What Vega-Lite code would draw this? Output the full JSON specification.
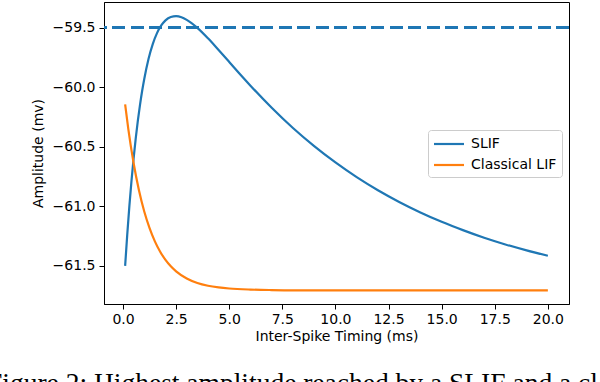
{
  "$schema": "https://vega.github.io/schema/vega-lite/v6.json",
  "autosize": "none",
  "width": 465,
  "height": 302,
  "padding": {"left": 104, "top": 2, "right": 31, "bottom": 78},
  "background": "white",
  "config": {
    "view": {"stroke": "black", "strokeWidth": 1},
    "font": "DejaVu Sans",
    "axis": {
      "domainColor": "black",
      "tickColor": "black",
      "labelColor": "black",
      "titleColor": "black",
      "labelFont": "DejaVu Sans",
      "titleFont": "DejaVu Sans",
      "labelFontSize": 14,
      "titleFontSize": 14,
      "titleFontWeight": "normal",
      "tickSize": 5,
      "grid": false
    }
  },
  "title": {
    "text": "Figure 2: Highest amplitude reached by a SLIF and a classical LIF neuron",
    "orient": "bottom",
    "anchor": "start",
    "frame": "group",
    "dx": -117,
    "offset": 27,
    "font": "Liberation Serif",
    "fontSize": 27.5,
    "fontWeight": "normal",
    "color": "black"
  },
  "data": {
    "values": [
      {"t": 0.1, "v": -61.50, "model": "SLIF"},
      {"t": 0.2, "v": -61.235, "model": "SLIF"},
      {"t": 0.3, "v": -60.997, "model": "SLIF"},
      {"t": 0.4, "v": -60.785, "model": "SLIF"},
      {"t": 0.5, "v": -60.596, "model": "SLIF"},
      {"t": 0.6, "v": -60.428, "model": "SLIF"},
      {"t": 0.7, "v": -60.279, "model": "SLIF"},
      {"t": 0.8, "v": -60.148, "model": "SLIF"},
      {"t": 0.9, "v": -60.032, "model": "SLIF"},
      {"t": 1.0, "v": -59.931, "model": "SLIF"},
      {"t": 1.2, "v": -59.763, "model": "SLIF"},
      {"t": 1.4, "v": -59.638, "model": "SLIF"},
      {"t": 1.6, "v": -59.546, "model": "SLIF"},
      {"t": 1.8, "v": -59.482, "model": "SLIF"},
      {"t": 2.0, "v": -59.439, "model": "SLIF"},
      {"t": 2.25, "v": -59.411, "model": "SLIF"},
      {"t": 2.5, "v": -59.404, "model": "SLIF"},
      {"t": 2.75, "v": -59.413, "model": "SLIF"},
      {"t": 3.0, "v": -59.435, "model": "SLIF"},
      {"t": 3.5, "v": -59.502, "model": "SLIF"},
      {"t": 4.0, "v": -59.590, "model": "SLIF"},
      {"t": 4.5, "v": -59.688, "model": "SLIF"},
      {"t": 5.0, "v": -59.788, "model": "SLIF"},
      {"t": 5.5, "v": -59.889, "model": "SLIF"},
      {"t": 6.0, "v": -59.987, "model": "SLIF"},
      {"t": 7.0, "v": -60.173, "model": "SLIF"},
      {"t": 8.0, "v": -60.343, "model": "SLIF"},
      {"t": 9.0, "v": -60.495, "model": "SLIF"},
      {"t": 10.0, "v": -60.632, "model": "SLIF"},
      {"t": 11.0, "v": -60.755, "model": "SLIF"},
      {"t": 12.0, "v": -60.865, "model": "SLIF"},
      {"t": 13.0, "v": -60.963, "model": "SLIF"},
      {"t": 14.0, "v": -61.051, "model": "SLIF"},
      {"t": 15.0, "v": -61.130, "model": "SLIF"},
      {"t": 16.0, "v": -61.200, "model": "SLIF"},
      {"t": 17.0, "v": -61.264, "model": "SLIF"},
      {"t": 18.0, "v": -61.320, "model": "SLIF"},
      {"t": 19.0, "v": -61.370, "model": "SLIF"},
      {"t": 20.0, "v": -61.415, "model": "SLIF"},
      {"t": 0.1, "v": -60.145, "model": "Classical LIF"},
      {"t": 0.25, "v": -60.353, "model": "Classical LIF"},
      {"t": 0.5, "v": -60.639, "model": "Classical LIF"},
      {"t": 0.75, "v": -60.865, "model": "Classical LIF"},
      {"t": 1.0, "v": -61.043, "model": "Classical LIF"},
      {"t": 1.25, "v": -61.183, "model": "Classical LIF"},
      {"t": 1.5, "v": -61.294, "model": "Classical LIF"},
      {"t": 1.75, "v": -61.381, "model": "Classical LIF"},
      {"t": 2.0, "v": -61.45, "model": "Classical LIF"},
      {"t": 2.25, "v": -61.504, "model": "Classical LIF"},
      {"t": 2.5, "v": -61.546, "model": "Classical LIF"},
      {"t": 3.0, "v": -61.606, "model": "Classical LIF"},
      {"t": 3.5, "v": -61.644, "model": "Classical LIF"},
      {"t": 4.0, "v": -61.667, "model": "Classical LIF"},
      {"t": 4.5, "v": -61.681, "model": "Classical LIF"},
      {"t": 5.0, "v": -61.69, "model": "Classical LIF"},
      {"t": 6.0, "v": -61.699, "model": "Classical LIF"},
      {"t": 7.0, "v": -61.703, "model": "Classical LIF"},
      {"t": 8.0, "v": -61.705, "model": "Classical LIF"},
      {"t": 10.0, "v": -61.705, "model": "Classical LIF"},
      {"t": 12.5, "v": -61.705, "model": "Classical LIF"},
      {"t": 15.0, "v": -61.705, "model": "Classical LIF"},
      {"t": 17.5, "v": -61.705, "model": "Classical LIF"},
      {"t": 20.0, "v": -61.705, "model": "Classical LIF"}
    ]
  },
  "layer": [
    {
      "mark": {"type": "rule", "color": "#1f77b4", "strokeWidth": 2, "strokeDash": [12.5, 6]},
      "encoding": {"y": {"datum": -59.5, "type": "quantitative"}}
    },
    {
      "mark": {"type": "line", "strokeWidth": 2.2, "interpolate": "monotone"},
      "encoding": {
        "x": {
          "field": "t",
          "type": "quantitative",
          "scale": {"domain": [-0.895, 20.995], "nice": false, "zero": false},
          "axis": {
            "title": "Inter-Spike Timing (ms)",
            "values": [0, 2.5, 5, 7.5, 10, 12.5, 15, 17.5, 20],
            "format": ".1f",
            "labelPadding": 3,
            "titlePadding": 3
          }
        },
        "y": {
          "field": "v",
          "type": "quantitative",
          "scale": {"domain": [-61.82, -59.285], "nice": false, "zero": false},
          "axis": {
            "title": "Amplitude (mv)",
            "values": [-61.5, -61, -60.5, -60, -59.5],
            "format": ".1f",
            "labelPadding": 4,
            "titlePadding": 7
          }
        },
        "color": {
          "field": "model",
          "type": "nominal",
          "sort": ["SLIF", "Classical LIF"],
          "scale": {"domain": ["SLIF", "Classical LIF"], "range": ["#1f77b4", "#ff7f0e"]},
          "legend": {
            "title": null,
            "orient": "none",
            "legendX": 324,
            "legendY": 128,
            "symbolType": "M-2,0H2",
            "symbolSize": 225,
            "symbolStrokeWidth": 2.2,
            "symbolOffset": 7,
            "labelFont": "DejaVu Sans",
            "labelFontSize": 14,
            "labelColor": "black",
            "labelOffset": 13,
            "rowPadding": 5,
            "padding": 5,
            "fillColor": "rgba(255,255,255,0.8)",
            "strokeColor": "#cccccc",
            "cornerRadius": 3
          }
        }
      }
    }
  ]
}
